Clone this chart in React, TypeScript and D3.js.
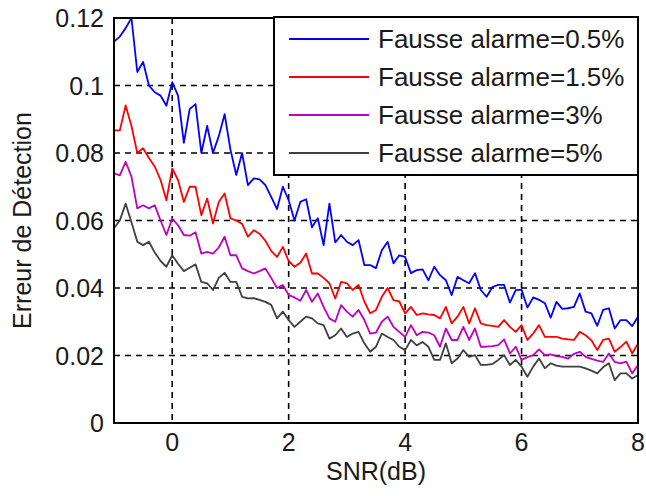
import * as d3 from 'd3';
import { useEffect, useRef } from 'react';

// SNR axis, sampled every 0.1 dB from -1 to 8
const snr = d3.range(0, 91).map((i) => Math.round((-1 + i * 0.1) * 10) / 10);

const pfa05 = [
  0.113, 0.1145, 0.117, 0.12, 0.104, 0.107, 0.1, 0.098, 0.097, 0.094,
  0.101, 0.097, 0.083, 0.093, 0.0945, 0.08, 0.088, 0.08, 0.085, 0.0915,
  0.081, 0.0735, 0.08, 0.0705, 0.0725, 0.0722, 0.0705, 0.067, 0.0634, 0.07,
  0.066, 0.06, 0.0655, 0.0663, 0.058, 0.0607, 0.0527, 0.065, 0.0535, 0.0557,
  0.0537, 0.0527, 0.0542, 0.0468, 0.0468, 0.0459, 0.0512, 0.0537, 0.0473, 0.0497,
  0.0492, 0.0444, 0.0453, 0.0455, 0.0423, 0.0463, 0.0438, 0.0423, 0.0379, 0.0433,
  0.0423, 0.0414, 0.0444, 0.0394, 0.0374, 0.0403, 0.0409, 0.0409, 0.0357, 0.0394,
  0.0395, 0.0342, 0.0372, 0.0365, 0.0355, 0.0312, 0.0359, 0.0338, 0.034, 0.0344,
  0.0384, 0.033, 0.0325, 0.0288, 0.0335, 0.034, 0.028, 0.0305, 0.0305, 0.0287,
  0.0315,
];

const pfa15 = [
  0.0867, 0.0867, 0.0941, 0.088, 0.08, 0.0814, 0.0785, 0.076, 0.072, 0.066,
  0.0754, 0.072, 0.0655, 0.07, 0.07, 0.0616, 0.0665, 0.0591, 0.0655, 0.068,
  0.0606, 0.06, 0.059, 0.0552, 0.0571, 0.0561, 0.054, 0.051, 0.0492, 0.0522,
  0.048, 0.0463, 0.0475, 0.0502, 0.0443, 0.0443, 0.043, 0.0414, 0.0369, 0.0418,
  0.0414, 0.0394, 0.0409, 0.036, 0.0325, 0.0335, 0.0374, 0.04, 0.0364, 0.036,
  0.0325, 0.0344, 0.032, 0.0325, 0.0322, 0.032, 0.031, 0.0344, 0.0295, 0.0315,
  0.0344, 0.0295, 0.034, 0.0295, 0.029, 0.0288, 0.0285, 0.0305, 0.0285, 0.027,
  0.029, 0.0246, 0.0265, 0.029, 0.0255, 0.0255, 0.0255, 0.025, 0.0248, 0.0246,
  0.027, 0.026, 0.0245, 0.0216, 0.0246, 0.025, 0.0211, 0.0225, 0.0241, 0.0206,
  0.0236,
];

const pfa3 = [
  0.074, 0.0734, 0.0774, 0.073, 0.0636, 0.0645, 0.0636, 0.0645, 0.06, 0.0557,
  0.0606, 0.0586, 0.0557, 0.0555, 0.0565, 0.0502, 0.0507, 0.0502, 0.052, 0.0552,
  0.0497, 0.0497, 0.0458, 0.045, 0.0443, 0.045, 0.0458, 0.043, 0.04, 0.0409,
  0.0379, 0.0372, 0.0362, 0.0394, 0.0359, 0.0384, 0.0344, 0.031, 0.03, 0.0349,
  0.033, 0.0315, 0.0335, 0.0305, 0.0265, 0.0268, 0.03, 0.0315, 0.0285, 0.027,
  0.0255, 0.029, 0.026, 0.027, 0.0268, 0.026, 0.0226, 0.028, 0.0246, 0.0246,
  0.0285, 0.0246, 0.028, 0.0226, 0.0226, 0.0228, 0.0231, 0.0248, 0.0206, 0.0226,
  0.0187, 0.0195, 0.0201, 0.0218, 0.0201, 0.0203, 0.0198, 0.0196, 0.0191, 0.0205,
  0.0211, 0.0196, 0.019, 0.0185, 0.0181, 0.0206, 0.0181, 0.0177, 0.0182, 0.0147,
  0.0172,
];

const pfa5 = [
  0.0577, 0.06, 0.065, 0.0595, 0.0537, 0.0527, 0.0537, 0.0505, 0.048, 0.0463,
  0.0497, 0.0472, 0.045, 0.046, 0.047, 0.0418, 0.0414, 0.0394, 0.043, 0.0445,
  0.0418, 0.0418, 0.0374, 0.0369, 0.037, 0.0365, 0.0359, 0.035, 0.031, 0.033,
  0.0305, 0.0285, 0.03, 0.0315, 0.031, 0.0295, 0.029, 0.025, 0.026, 0.028,
  0.0255, 0.0265, 0.027, 0.0236, 0.0211, 0.0226, 0.0265, 0.0255, 0.0246, 0.0226,
  0.0216, 0.0246, 0.023, 0.024, 0.0226, 0.0187, 0.0187, 0.0236, 0.0177, 0.0191,
  0.0216, 0.0196, 0.0201, 0.0172, 0.0172, 0.0175, 0.0187, 0.0201, 0.0172, 0.0187,
  0.0167, 0.0137, 0.0167, 0.0191, 0.0162, 0.0177, 0.017, 0.0167, 0.0167, 0.0167,
  0.0167, 0.0162, 0.0155, 0.0147, 0.0165, 0.0177, 0.0127, 0.0147, 0.0147, 0.0132,
  0.0142,
];

const seriesLabels = [
  'Fausse alarme=0.5%',
  'Fausse alarme=1.5%',
  'Fausse alarme=3%',
  'Fausse alarme=5%',
];
const seriesColors = ['#0000ff', '#ff0000', '#bf00bf', '#404040'];

const xTicks = [0, 2, 4, 6, 8];
const yTicks = [0, 0.02, 0.04, 0.06, 0.08, 0.1, 0.12];

function App() {
  const svgRef = useRef<SVGSVGElement>(null);

  useEffect(() => {
    if (!svgRef.current) {
      return;
    }
    const W = 646;
    const H = 496;
    const margin = { top: 18, right: 8, bottom: 73, left: 114 };
    const width = W - margin.left - margin.right;
    const height = H - margin.top - margin.bottom;
    const font = '"Liberation Sans", Arial, sans-serif';
    const ink = '#1a1a1a';

    const svg = d3.select(svgRef.current);
    svg.selectAll('*').remove();
    svg.attr('width', W).attr('height', H);

    svg.append('rect').attr('width', W).attr('height', H).attr('fill', '#fff');

    const g = svg
      .append('g')
      .attr('transform', `translate(${margin.left},${margin.top})`);

    const xScale = d3.scaleLinear().domain([-1, 8]).range([0, width]);
    const yScale = d3.scaleLinear().domain([0, 0.12]).range([height, 0]);

    // dashed grid
    g.append('g')
      .selectAll('line')
      .data(xTicks)
      .join('line')
      .attr('x1', (d) => xScale(d))
      .attr('x2', (d) => xScale(d))
      .attr('y1', 0)
      .attr('y2', height)
      .attr('stroke', '#000')
      .attr('stroke-width', 1.6)
      .attr('stroke-dasharray', '6,5');

    g.append('g')
      .selectAll('line')
      .data(yTicks)
      .join('line')
      .attr('x1', 0)
      .attr('x2', width)
      .attr('y1', (d) => yScale(d))
      .attr('y2', (d) => yScale(d))
      .attr('stroke', '#000')
      .attr('stroke-width', 1.6)
      .attr('stroke-dasharray', '6,5');

    // curves
    g.append('clipPath')
      .attr('id', 'plot-clip')
      .append('rect')
      .attr('x', 0)
      .attr('y', -2)
      .attr('width', width)
      .attr('height', height + 2);

    const allSeries = [pfa05, pfa15, pfa3, pfa5];
    allSeries.forEach((values, k) => {
      const line = d3
        .line<number>()
        .x((_, i) => xScale(snr[i]))
        .y((d) => yScale(d));
      g.append('path')
        .datum(values)
        .attr('clip-path', 'url(#plot-clip)')
        .attr('fill', 'none')
        .attr('stroke', seriesColors[k])
        .attr('stroke-width', 1.8)
        .attr('stroke-linejoin', 'round')
        .attr('d', line);
    });

    // axes box
    g.append('rect')
      .attr('x', 0)
      .attr('y', 0)
      .attr('width', width)
      .attr('height', height)
      .attr('fill', 'none')
      .attr('stroke', '#000')
      .attr('stroke-width', 2);

    // tick labels
    g.append('g')
      .selectAll('text')
      .data(xTicks)
      .join('text')
      .attr('x', (d) => xScale(d))
      .attr('y', height + 28)
      .attr('text-anchor', 'middle')
      .style('font-family', font)
      .style('font-size', '25px')
      .attr('fill', ink)
      .text((d) => String(d));

    g.append('g')
      .selectAll('text')
      .data(yTicks)
      .join('text')
      .attr('x', -10)
      .attr('y', (d) => yScale(d) + 9)
      .attr('text-anchor', 'end')
      .style('font-family', font)
      .style('font-size', '25px')
      .attr('fill', ink)
      .text((d) => d3.format('~g')(d));

    // axis titles
    svg
      .append('text')
      .attr('x', margin.left + width / 2)
      .attr('y', H - 16)
      .attr('text-anchor', 'middle')
      .style('font-family', font)
      .style('font-size', '25px')
      .attr('fill', ink)
      .text('SNR(dB)');

    svg
      .append('text')
      .attr('transform', `translate(31,${margin.top + height / 2}) rotate(-90)`)
      .attr('text-anchor', 'middle')
      .style('font-family', font)
      .style('font-size', '25px')
      .attr('fill', ink)
      .text('Erreur de Détection');

    // legend
    const legend = svg.append('g').attr('transform', 'translate(274,17)');
    legend
      .append('rect')
      .attr('width', 364)
      .attr('height', 158)
      .attr('fill', '#fff')
      .attr('stroke', '#000')
      .attr('stroke-width', 2);

    seriesLabels.forEach((label, i) => {
      const row = legend.append('g').attr('transform', `translate(0,${22 + i * 38})`);
      row
        .append('line')
        .attr('x1', 15)
        .attr('x2', 95)
        .attr('y1', 0)
        .attr('y2', 0)
        .attr('stroke', seriesColors[i])
        .attr('stroke-width', 1.8);
      row
        .append('text')
        .attr('x', 104)
        .attr('y', 9)
        .style('font-family', font)
        .style('font-size', '26px')
        .attr('fill', ink)
        .text(label);
    });
  }, []);

  return (
    <div style={{ position: 'absolute', left: 0, top: 0 }}>
      <svg ref={svgRef} style={{ display: 'block' }} />
    </div>
  );
}

export default App;
